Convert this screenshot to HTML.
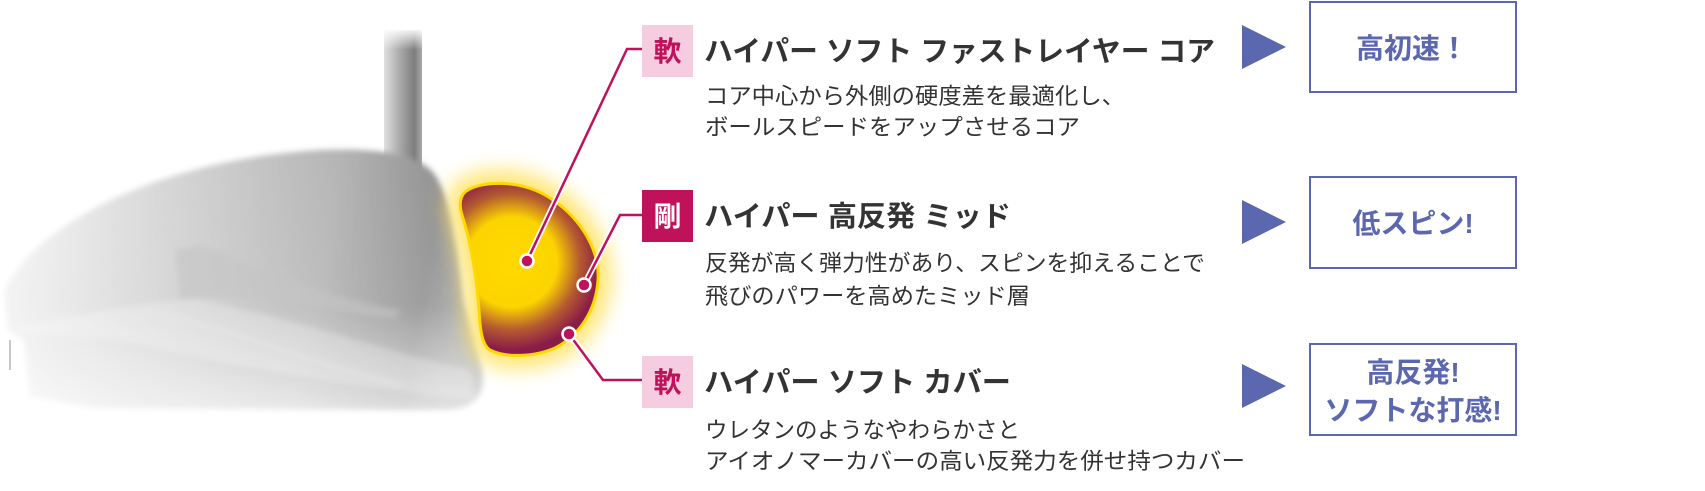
<!DOCTYPE html>
<html><head><meta charset="utf-8">
<style>
html,body{margin:0;padding:0;background:#fff;}
svg{display:block;}
text{font-family:"Liberation Sans","Noto Sans CJK JP",sans-serif;}
</style></head>
<body>
<svg width="1705" height="491" viewBox="0 0 1705 491" xmlns="http://www.w3.org/2000/svg">
<defs>
  <linearGradient id="shaft" x1="0" y1="0" x2="1" y2="0">
    <stop offset="0" stop-color="#e0e0e0"/>
    <stop offset="0.45" stop-color="#a5a5a5"/>
    <stop offset="0.8" stop-color="#7d7d7d"/>
    <stop offset="1" stop-color="#aaa"/>
  </linearGradient>
  <linearGradient id="shaftfade" x1="0" y1="0" x2="0" y2="1">
    <stop offset="0" stop-color="#fff" stop-opacity="1"/>
    <stop offset="0.15" stop-color="#fff" stop-opacity="0"/>
  </linearGradient>
  <linearGradient id="head" x1="0" y1="0" x2="1" y2="0.1">
    <stop offset="0" stop-color="#f8f8f8"/>
    <stop offset="0.3" stop-color="#dadada"/>
    <stop offset="0.7" stop-color="#b4b4b4"/>
    <stop offset="0.92" stop-color="#8e8e8e"/>
    <stop offset="1" stop-color="#a0a0a0"/>
  </linearGradient>
  <linearGradient id="headv" x1="0" y1="0" x2="0" y2="1">
    <stop offset="0" stop-color="#fff" stop-opacity="0"/>
    <stop offset="0.6" stop-color="#fff" stop-opacity="0.15"/>
    <stop offset="1" stop-color="#fff" stop-opacity="0.7"/>
  </linearGradient>
  <radialGradient id="core" cx="512" cy="262" r="100" gradientUnits="userSpaceOnUse">
    <stop offset="0" stop-color="#ffd900"/>
    <stop offset="0.45" stop-color="#fcd400"/>
    <stop offset="0.68" stop-color="#b45a30"/>
    <stop offset="0.88" stop-color="#8a1c48"/>
    <stop offset="1" stop-color="#861a46"/>
  </radialGradient>
  <filter id="blur3" x="-20%" y="-20%" width="140%" height="140%"><feGaussianBlur stdDeviation="3"/></filter>
  <filter id="blur10" x="-50%" y="-50%" width="200%" height="200%"><feGaussianBlur stdDeviation="10"/></filter>
</defs>

<rect x="384" y="30" width="38" height="140" fill="url(#shaft)"/>
<rect x="380" y="28" width="46" height="145" fill="url(#shaftfade)"/>

<g filter="url(#blur3)">
  <path d="M4,292 C30,230 150,160 320,150 C390,147 428,158 438,180 C452,205 458,245 464,300 L482,368 C487,398 472,410 440,410 L95,408 L30,396 L24,340 L8,330 Z" fill="url(#head)"/>
  <path d="M4,292 C30,230 150,160 320,150 C390,147 428,158 438,180 C452,205 458,245 464,300 L482,368 C487,398 472,410 440,410 L95,408 L30,396 L24,340 L8,330 Z" fill="url(#headv)"/>
  <path d="M10,330 C60,320 140,300 200,300 C300,320 380,350 470,370 L475,400 C380,390 250,370 120,340 Z" fill="#fff" opacity="0.25"/>
  <path d="M175,250 L200,245 C260,265 330,300 400,310 L395,318 C320,310 250,290 180,300 Z" fill="#c4c4c4" opacity="0.6"/>
  <path d="M145,310 C240,330 330,370 400,385" stroke="#e8e8e8" stroke-width="2" fill="none"/>
</g>
<line x1="10" y1="340" x2="10" y2="370" stroke="#c8c8c8" stroke-width="2"/>

<path d="M465,192 C480,180 520,180 545,195 C580,215 600,250 598,280 C596,310 580,335 555,348 C535,357 505,358 490,350 C482,345 480,330 479,310 C476,270 470,240 462,215 C459,205 460,197 465,192 Z" fill="#ffe46a" stroke="#ffe46a" stroke-width="26" filter="url(#blur10)" opacity="0.95"/>
<path d="M465,192 C480,180 520,180 545,195 C580,215 600,250 598,280 C596,310 580,335 555,348 C535,357 505,358 490,350 C482,345 480,330 479,310 C476,270 470,240 462,215 C459,205 460,197 465,192 Z" fill="url(#core)" stroke="#ffd800" stroke-width="3"/>

<g fill="none">
  <polyline points="527,261 627,49 642,49" stroke="#fff" stroke-width="6"/>
  <polyline points="584,285 620,215 642,215" stroke="#fff" stroke-width="6"/>
  <polyline points="569,334 603,380 642,380" stroke="#fff" stroke-width="6"/>
  <polyline points="527,261 627,49 642,49" stroke="#c0125a" stroke-width="2.5"/>
  <polyline points="584,285 620,215 642,215" stroke="#c0125a" stroke-width="2.5"/>
  <polyline points="569,334 603,380 642,380" stroke="#c0125a" stroke-width="2.5"/>
</g>
<g fill="#c0125a" stroke="#fff" stroke-width="2.5">
  <circle cx="527" cy="261" r="6.5"/>
  <circle cx="584" cy="285" r="6.5"/>
  <circle cx="569" cy="334" r="6.5"/>
</g>

<rect x="642" y="25" width="51" height="52" fill="#f6cde0"/>
<text x="667.5" y="61" font-size="28" font-weight="bold" fill="#c0125a" text-anchor="middle">軟</text>
<rect x="642" y="190" width="51" height="52" fill="#c0125a"/>
<text x="667.5" y="226" font-size="28" font-weight="bold" fill="#fff" text-anchor="middle">剛</text>
<rect x="642" y="356" width="51" height="52" fill="#f6cde0"/>
<text x="667.5" y="392" font-size="28" font-weight="bold" fill="#c0125a" text-anchor="middle">軟</text>

<g font-size="28.5" font-weight="bold" fill="#333">
  <text x="704" y="61" textLength="511" lengthAdjust="spacingAndGlyphs">ハイパー ソフト ファストレイヤー コア</text>
  <text x="704" y="226" textLength="307" lengthAdjust="spacingAndGlyphs">ハイパー 高反発 ミッド</text>
  <text x="704" y="392" textLength="307" lengthAdjust="spacingAndGlyphs">ハイパー ソフト カバー</text>
</g>

<g font-size="22.5" fill="#333">
  <text x="705" y="104" textLength="420" lengthAdjust="spacingAndGlyphs">コア中心から外側の硬度差を最適化し、</text>
  <text x="705" y="135" textLength="375" lengthAdjust="spacingAndGlyphs">ボールスピードをアップさせるコア</text>
  <text x="705" y="271" textLength="500" lengthAdjust="spacingAndGlyphs">反発が高く弾力性があり、スピンを抑えることで</text>
  <text x="705" y="304" textLength="325" lengthAdjust="spacingAndGlyphs">飛びのパワーを高めたミッド層</text>
  <text x="705" y="438" textLength="315" lengthAdjust="spacingAndGlyphs">ウレタンのようなやわらかさと</text>
  <text x="705" y="469" textLength="540" lengthAdjust="spacingAndGlyphs">アイオノマーカバーの高い反発力を併せ持つカバー</text>
</g>

<g fill="#5b67ae">
  <polygon points="1242,25 1286,47 1242,69"/>
  <polygon points="1242,200 1286,222 1242,244"/>
  <polygon points="1242,364 1286,386 1242,408"/>
</g>

<g fill="none" stroke="#5b67ae" stroke-width="2">
  <rect x="1310" y="2" width="206" height="90"/>
  <rect x="1310" y="177" width="206" height="91"/>
  <rect x="1310" y="344" width="206" height="91"/>
</g>
<g font-size="28" font-weight="bold" fill="#5b67ae" text-anchor="middle">
  <text x="1412" y="58">高初速！</text>
  <text x="1413" y="233">低スピン!</text>
  <text x="1413" y="382">高反発!</text>
  <text x="1413" y="420">ソフトな打感!</text>
</g>
</svg>
</body></html>
